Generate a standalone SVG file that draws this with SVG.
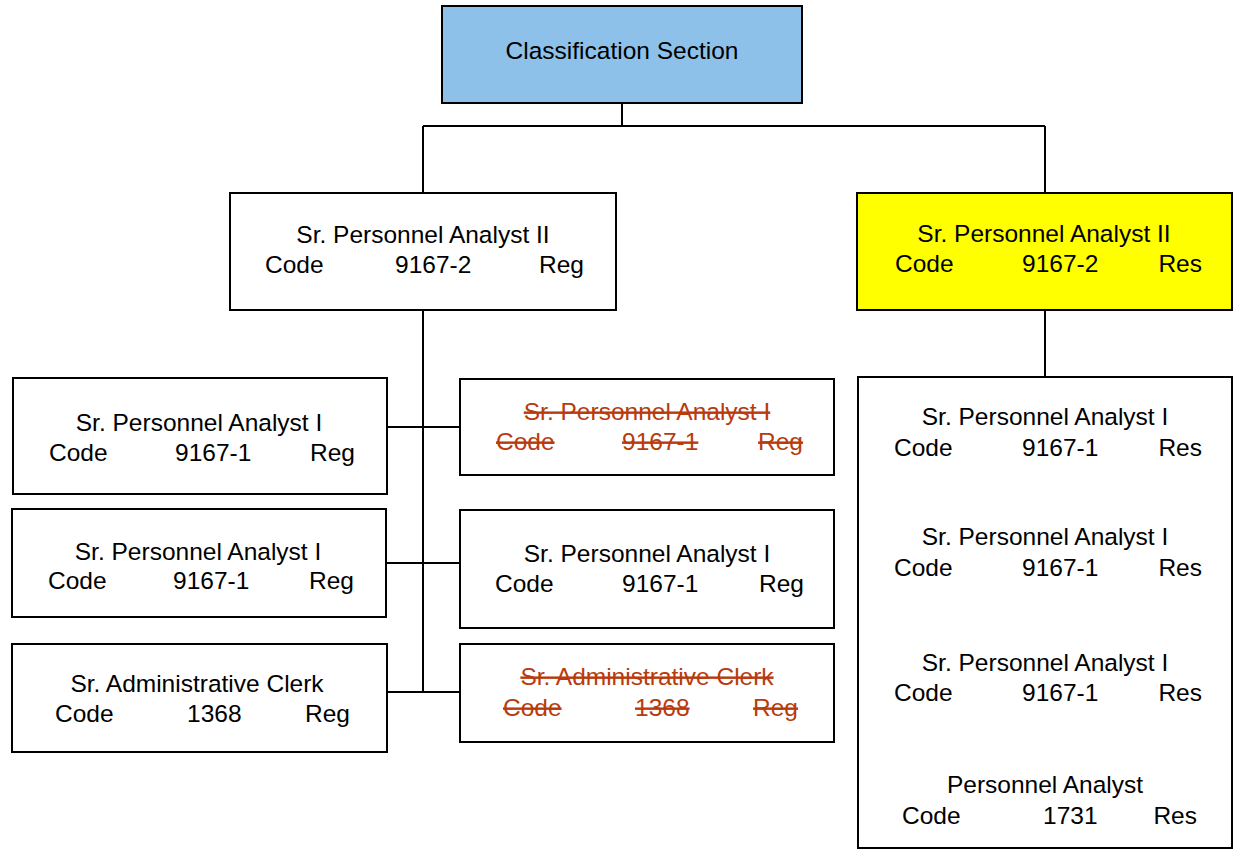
<svg xmlns="http://www.w3.org/2000/svg" width="1236" height="849" viewBox="0 0 1236 849">
  <style>
    .box { fill: #ffffff; stroke: #000000; stroke-width: 2; }
    .head { fill: #8dc1ea; }
    .res { fill: #ffff00; }
    .t { font-family: "Liberation Sans", Arial, sans-serif; font-size: 24.5px; fill: #000000; }
    .c { text-anchor: middle; }
    .e { text-anchor: end; }
    .gone { fill: #b83b0e; text-decoration: line-through; }
    .wire { fill: none; stroke: #000000; stroke-width: 2; }
  </style>
  <rect width="1236" height="849" fill="#ffffff"/>

  <!-- connectors -->
  <g id="connectors">
    <path class="wire" d="M622,103 V126 M423,126 H1045 M423,126 V193 M1045,126 V193"/>
    <path class="wire" d="M423,310 V692 M387,427 H460 M386,563 H460 M387,692 H460"/>
    <path class="wire" d="M1045,310 V377"/>
  </g>

  <g id="classification-section">
    <rect class="box head" x="442" y="6" width="360" height="97"/>
    <text class="t c" x="622" y="59">Classification Section</text>
  </g>

  <g id="spa2-reg">
    <rect class="box" x="230" y="193" width="386" height="117"/>
    <text class="t c" x="423" y="243">Sr. Personnel Analyst II</text>
    <text class="t" x="265" y="273">Code</text>
    <text class="t" x="395" y="273">9167-2</text>
    <text class="t e" x="584" y="273">Reg</text>
  </g>

  <g id="spa2-res">
    <rect class="box res" x="857" y="193" width="375" height="117"/>
    <text class="t c" x="1044" y="242">Sr. Personnel Analyst II</text>
    <text class="t" x="895" y="272">Code</text>
    <text class="t" x="1022" y="272">9167-2</text>
    <text class="t e" x="1202" y="272">Res</text>
  </g>

  <g id="spa1-reg-a">
    <rect class="box" x="13" y="378" width="374" height="116"/>
    <text class="t c" x="199" y="431">Sr. Personnel Analyst I</text>
    <text class="t" x="49" y="461">Code</text>
    <text class="t" x="175" y="461">9167-1</text>
    <text class="t e" x="355" y="461">Reg</text>
  </g>

  <g id="spa1-reg-b">
    <rect class="box" x="12" y="509" width="374" height="108"/>
    <text class="t c" x="198" y="560">Sr. Personnel Analyst I</text>
    <text class="t" x="48" y="589">Code</text>
    <text class="t" x="173" y="589">9167-1</text>
    <text class="t e" x="354" y="589">Reg</text>
  </g>

  <g id="clerk-reg">
    <rect class="box" x="12" y="644" width="375" height="108"/>
    <text class="t c" x="197" y="692">Sr. Administrative Clerk</text>
    <text class="t" x="55" y="722">Code</text>
    <text class="t" x="187" y="722">1368</text>
    <text class="t e" x="350" y="722">Reg</text>
  </g>

  <g id="spa1-reg-removed">
    <rect class="box" x="460" y="379" width="374" height="96"/>
    <text class="t c gone" x="647" y="420">Sr. Personnel Analyst I</text>
    <text class="t gone" x="496" y="450">Code</text>
    <text class="t gone" x="622" y="450">9167-1</text>
    <text class="t e gone" x="803" y="450">Reg</text>
  </g>

  <g id="spa1-reg-c">
    <rect class="box" x="460" y="510" width="374" height="118"/>
    <text class="t c" x="647" y="562">Sr. Personnel Analyst I</text>
    <text class="t" x="495" y="592">Code</text>
    <text class="t" x="622" y="592">9167-1</text>
    <text class="t e" x="804" y="592">Reg</text>
  </g>

  <g id="clerk-reg-removed">
    <rect class="box" x="460" y="644" width="374" height="98"/>
    <text class="t c gone" x="647" y="685">Sr. Administrative Clerk</text>
    <text class="t gone" x="503" y="716">Code</text>
    <text class="t gone" x="635" y="716">1368</text>
    <text class="t e gone" x="798" y="716">Reg</text>
  </g>

  <g id="res-staff">
    <rect class="box" x="858" y="377" width="374" height="471"/>
    <text class="t c" x="1045" y="425">Sr. Personnel Analyst I</text>
    <text class="t" x="894" y="456">Code</text>
    <text class="t" x="1022" y="456">9167-1</text>
    <text class="t e" x="1202" y="456">Res</text>

    <text class="t c" x="1045" y="545">Sr. Personnel Analyst I</text>
    <text class="t" x="894" y="576">Code</text>
    <text class="t" x="1022" y="576">9167-1</text>
    <text class="t e" x="1202" y="576">Res</text>

    <text class="t c" x="1045" y="671">Sr. Personnel Analyst I</text>
    <text class="t" x="894" y="701">Code</text>
    <text class="t" x="1022" y="701">9167-1</text>
    <text class="t e" x="1202" y="701">Res</text>

    <text class="t c" x="1045" y="793">Personnel Analyst</text>
    <text class="t" x="902" y="824">Code</text>
    <text class="t" x="1043" y="824">1731</text>
    <text class="t e" x="1197" y="824">Res</text>
  </g>
</svg>
